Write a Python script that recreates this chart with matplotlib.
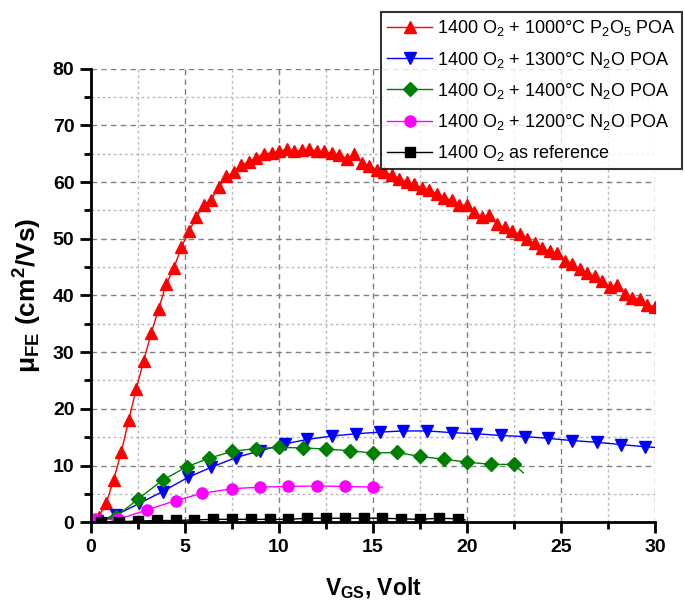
import numpy as np
from matplotlib import pyplot as plt
from matplotlib.ticker import MultipleLocator

plt.rcParams['font.family'] = ['Liberation Sans', 'DejaVu Sans']
plt.rcParams['mathtext.fontset'] = 'custom'
plt.rcParams['mathtext.rm'] = 'Liberation Sans'
plt.rcParams['mathtext.it'] = 'Liberation Sans:italic'
plt.rcParams['mathtext.bf'] = 'Liberation Sans:bold'

# 1000C P2O5 POA (red)
vgs_p2o5 = np.round(np.arange(1, 76) * 0.4, 1)
mu_p2o5 = [1.0, 3.3, 7.5, 12.3, 18.0, 23.5, 28.5, 33.4, 37.7, 42.0,
           44.8, 48.5, 51.3, 53.8, 56.0, 56.9, 59.2, 61.0, 61.8, 63.0,
           63.6, 64.3, 65.0, 65.1, 65.4, 65.8, 65.4, 65.6, 65.8, 65.5,
           65.4, 65.1, 64.8, 64.1, 65.0, 63.4, 62.9, 62.2, 61.8, 61.2,
           60.6, 60.0, 59.6, 59.0, 58.6, 57.9, 57.2, 56.8, 56.0, 55.9,
           54.8, 53.8, 54.2, 52.6, 52.0, 51.3, 50.8, 50.0, 49.2, 48.4,
           47.8, 47.5, 46.0, 45.5, 44.7, 44.0, 43.4, 42.6, 41.5, 41.8,
           40.2, 39.6, 39.4, 38.4, 38.0]

# 1300C N2O POA (blue)
vgs_1300 = [0.3, 1.3, 2.55, 3.8, 5.15, 6.4, 7.7, 9.0, 10.3, 11.5, 12.8, 14.1,
            15.4, 16.6, 17.9, 19.2, 20.5, 21.8, 23.1, 24.3, 25.6, 26.9,
            28.2, 29.5]
mu_1300 = [0.2, 1.2, 3.3, 5.4, 7.9, 9.7, 11.4, 12.6, 13.8, 14.6, 15.2, 15.6,
           15.9, 16.1, 16.1, 15.8, 15.6, 15.3, 15.1, 14.8, 14.4, 14.1,
           13.7, 13.3]

# 1400C N2O POA (green)
vgs_1400 = [0.3, 1.3, 2.5, 3.8, 5.1, 6.3, 7.5, 8.8, 10.0, 11.3, 12.5, 13.8,
            15.0, 16.3, 17.5, 18.8, 20.0, 21.3, 22.5]
mu_1400 = [0.2, 0.9, 4.1, 7.4, 9.8, 11.3, 12.5, 13.0, 13.2, 13.1, 12.9, 12.6,
           12.2, 12.3, 11.6, 11.1, 10.6, 10.2, 10.2]

# 1200C N2O POA (magenta)
vgs_1200 = [0.2, 1.45, 3.0, 4.5, 5.9, 7.5, 9.0, 10.5, 12.0, 13.5, 15.0]
mu_1200 = [0.5, 0.5, 2.2, 3.8, 5.1, 5.9, 6.2, 6.3, 6.4, 6.3, 6.2]

# reference (black)
vgs_ref = [0.5, 1.5, 2.5, 3.5, 4.5, 5.5, 6.5, 7.5, 8.5, 9.5, 10.5, 11.5,
           12.5, 13.5, 14.5, 15.5, 16.5, 17.5, 18.5, 19.5]
mu_ref = [0.0, 0.1, 0.2, 0.3, 0.3, 0.4, 0.5, 0.5, 0.5, 0.5, 0.5, 0.7,
          0.7, 0.7, 0.7, 0.7, 0.6, 0.5, 0.7, 0.6]

fig = plt.figure(figsize=(6.85, 6.03), dpi=100)
ax = fig.add_axes([0.133, 0.134, 0.823, 0.752])

ax.plot(vgs_p2o5, mu_p2o5, '-^', color='red', lw=1, ms=9,
        label='1400 O$_\\mathregular{2}$ + 1000\u00b0C P$_\\mathregular{2}$O$_\\mathregular{5}$ POA')
ax.plot(vgs_1300 + [30], mu_1300 + [13.2], '-v', color='blue', lw=1, ms=9,
        markevery=list(range(len(vgs_1300))),
        label='1400 O$_\\mathregular{2}$ + 1300\u00b0C N$_\\mathregular{2}$O POA')
ax.plot(vgs_1400 + [23.0], mu_1400 + [8.7], '-D', color='green', lw=1, ms=7.5,
        markevery=list(range(len(vgs_1400))),
        label='1400 O$_\\mathregular{2}$ + 1400\u00b0C N$_\\mathregular{2}$O POA')
ax.plot(vgs_1200 + [15.5], mu_1200 + [6.2], '-o', color='magenta', lw=1, ms=8,
        markevery=list(range(len(vgs_1200))),
        label='1400 O$_\\mathregular{2}$ + 1200\u00b0C N$_\\mathregular{2}$O POA')
ax.plot(vgs_ref + [19.9], mu_ref + [0.4], '-s', color='black', lw=1, ms=7,
        markevery=list(range(len(vgs_ref))),
        label='1400 O$_\\mathregular{2}$ as reference')

ax.set_xlim(0, 30)
ax.set_ylim(0, 80)
ax.xaxis.set_major_locator(MultipleLocator(5))
ax.xaxis.set_minor_locator(MultipleLocator(2.5))
ax.yaxis.set_major_locator(MultipleLocator(10))
ax.yaxis.set_minor_locator(MultipleLocator(5))

ax.grid(which='major', color='gray', ls=(0, (4, 3)), lw=1)
ax.grid(which='minor', color='#bbbbbb', ls=(0, (2, 2)), lw=1)
ax.set_axisbelow(True)

for side in ['top', 'right']:
    ax.spines[side].set_visible(False)
for side in ['left', 'bottom']:
    ax.spines[side].set_linewidth(2)

ax.tick_params(which='major', direction='out', length=8, width=2,
               labelsize=14, pad=4)
ax.tick_params(which='minor', direction='out', length=5, width=2)
for lbl in ax.get_xticklabels() + ax.get_yticklabels():
    lbl.set_fontweight('bold')

ax.set_xlabel('V$_\\mathregular{GS}$, Volt', fontsize=16.5, fontweight='bold',
              labelpad=14)
ax.set_ylabel('\u03bc$_\\mathregular{FE}$ (cm$^\\mathregular{2}$/Vs)',
              fontsize=19, fontweight='bold', labelpad=6)

leg = fig.legend(loc='upper left', bbox_to_anchor=(0.556, 0.98), fontsize=13,
                 frameon=True, fancybox=False, edgecolor='black',
                 handlelength=2.5, handletextpad=0.25, labelspacing=0.62,
                 borderpad=0.35, borderaxespad=0)
leg.get_frame().set_linewidth(1.5)

plt.savefig('out.png', dpi=100)
